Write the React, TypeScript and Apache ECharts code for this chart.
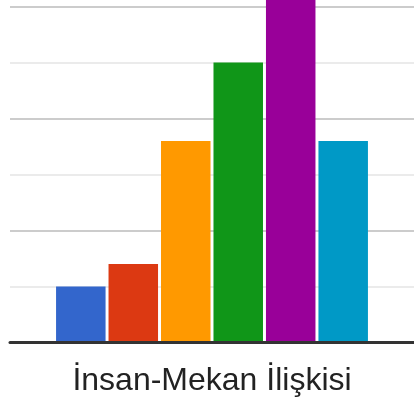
import React, { useEffect, useRef } from "react";
import * as echarts from "echarts";

const categories = ["İnsan-Mekan İlişkisi"];
const seriesNames = ["1", "2", "3", "4", "5", "6"];
const seriesValues = [5, 7, 18, 25, 32, 18];
const seriesColors = ["#3366cc", "#dc3912", "#ff9900", "#109618", "#990099", "#0099c6"];

export default function App() {
  const ref = useRef<HTMLDivElement>(null);
  useEffect(() => {
    if (!ref.current) return;
    const chart = echarts.init(ref.current, null, { renderer: "svg" });
    chart.setOption({
      animation: false,
      grid: { left: 10, right: 0, top: 6.5, bottom: 64.5 },
      xAxis: {
        type: "category",
        data: categories,
        axisTick: { show: false },
        axisLine: { show: true, lineStyle: { color: "#333333", width: 3 } },
        axisLabel: {
          color: "#222222",
          fontSize: 32,
          fontFamily: "Arial, 'Liberation Sans', sans-serif",
          margin: 20,
        },
        splitLine: { show: false },
        z: 3,
      },
      yAxis: {
        type: "value",
        min: 0,
        max: 30,
        interval: 10,
        axisLabel: { show: false },
        axisLine: { show: false },
        axisTick: { show: false },
        splitLine: { show: true, lineStyle: { color: "#cccccc", width: 2 } },
        minorTick: { show: false, splitNumber: 2 },
        minorSplitLine: { show: true, lineStyle: { color: "#ebebeb", width: 2 } },
      },
      series: seriesValues.map((v, i) => ({
        type: "bar",
        name: seriesNames[i],
        data: [v],
        clip: false,
        barGap: "6%",
        barCategoryGap: "22.8%",
        itemStyle: { color: seriesColors[i] },
      })),
    });
    return () => chart.dispose();
  }, []);
  return (
    <div
      ref={ref}
      style={{ position: "fixed", left: 0, top: 0, width: 414, height: 407 }}
    />
  );
}
